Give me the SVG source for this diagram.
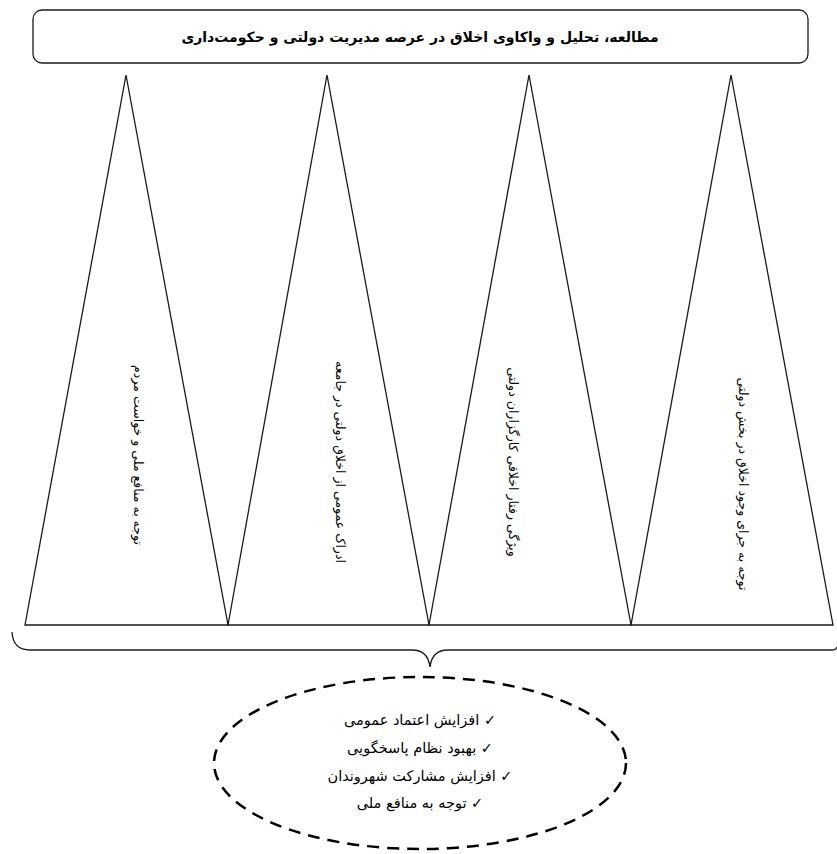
<svg xmlns="http://www.w3.org/2000/svg" width="837" height="854" viewBox="0 0 837 854">
<style>
.ln{fill:none;stroke:#1a1a1a;stroke-width:1.3}
.tri{fill:#fff;stroke:#1a1a1a;stroke-width:1.3;stroke-linejoin:miter}
.vt{font-family:"DejaVu Sans","Noto Sans",sans-serif;font-size:12.5px;fill:#000;text-anchor:middle}
.et{font-family:"DejaVu Sans","Noto Sans",sans-serif;font-size:14.5px;fill:#000;text-anchor:middle}
</style>
<rect width="837" height="854" fill="#fff"/>
<g id="title">
<rect x="33" y="10" width="775" height="53" rx="9" class="ln"/>
<text x="420" y="42" font-family="DejaVu Sans,sans-serif" font-size="14" font-weight="bold" text-anchor="middle">مطالعه، تحلیل و واکاوی اخلاق در عرصه مدیریت دولتی و حکومت‌داری</text>
</g>
<g id="t1">
<polygon points="126,75 25,625 228,625" class="tri"/>
<text class="vt" transform="translate(138,455) rotate(90)" dy="4">توجه به منافع ملی و خواست مردم</text>
</g>
<g id="t2">
<polygon points="327,75 228,625 429,625" class="tri"/>
<text class="vt" transform="translate(340,462) rotate(90)" dy="4">ادراک عمومی از اخلاق دولتی در جامعه</text>
</g>
<g id="t3">
<polygon points="529,75 429,625 631,625" class="tri"/>
<text class="vt" transform="translate(513,462) rotate(90)" dy="4">ویژگی رفتار اخلاقی کارگزاران دولتی</text>
</g>
<g id="t4">
<polygon points="731,75 631,625 833,625" class="tri"/>
<text class="vt" transform="translate(743,484) rotate(90)" dy="4">توجه به جرای وجود اخلاق در بخش دولتی</text>
</g>
<g id="connectors">
<path d="M12,632 Q13,650 30,650 L412,650 Q428,650 430,667 Q432,650 448,650 L832,650 Q836,650 837,647" class="ln"/>
</g>
<g id="outcomes">
<ellipse cx="420" cy="763" rx="206" ry="86" fill="none" stroke="#000" stroke-width="2.5" stroke-dasharray="12 8"/>
<text class="et" x="420" y="725" direction="rtl">✓ افزایش اعتماد عمومی</text>
<text class="et" x="420" y="753" direction="rtl">✓ بهبود نظام پاسخگویی</text>
<text class="et" x="420" y="781" direction="rtl">✓ افزایش مشارکت شهروندان</text>
<text class="et" x="420" y="808" direction="rtl">✓ توجه به منافع ملی</text>
</g>
</svg>
